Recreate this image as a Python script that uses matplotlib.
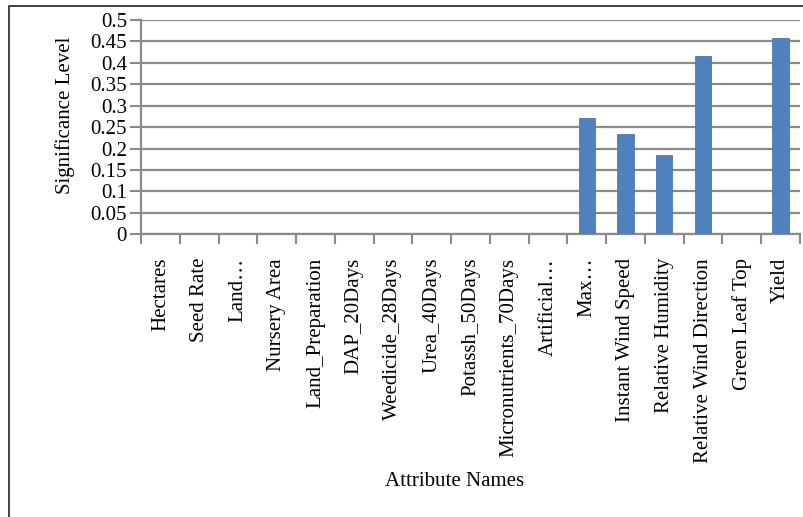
import matplotlib
matplotlib.use("Agg")
import matplotlib.pyplot as plt
from matplotlib.lines import Line2D
import numpy as np

attributes = ["Hectares", "Seed Rate", "Land\u2026", "Nursery Area", "Land_Preparation",
              "DAP_20Days", "Weedicide_28Days", "Urea_40Days", "Potassh_50Days",
              "Micronutrients_70Days", "Artificial\u2026", "Max\u2026", "Instant Wind Speed",
              "Relative Humidity", "Relative Wind Direction", "Green Leaf Top", "Yield"]
significance = [0, 0, 0, 0, 0, 0, 0, 0, 0, 0, 0,
                0.271, 0.235, 0.184, 0.417, 0, 0.457]
y_ticks = [0, 0.05, 0.1, 0.15, 0.2, 0.25, 0.3, 0.35, 0.4, 0.45, 0.5]
y_tick_labels = ["0", "0.05", "0.1", "0.15", "0.2", "0.25", "0.3", "0.35", "0.4", "0.45", "0.5"]

plt.rcParams['font.family'] = ['Liberation Serif', 'DejaVu Serif']
fs = 15
grey = '#8a8a8a'

W, H = 804, 517
fig = plt.figure(figsize=(W / 100, H / 100), dpi=100)
ax = fig.add_axes([141 / W, 1 - 234.3 / H, (800 - 141) / W, (234.3 - 20) / H])

x = np.arange(len(attributes))
ax.bar(x, significance, width=0.42, color='#4F81BD', edgecolor='#4A7AB5', linewidth=0.6, zorder=3)

ax.set_xlim(-0.5, len(attributes) - 0.5)
ax.set_ylim(0, 0.5)
ax.set_yticks(y_ticks)
ax.set_yticklabels(y_tick_labels, fontsize=fs)
ax.yaxis.grid(True, color=grey, linewidth=1.6, zorder=0)
ax.set_axisbelow(True)

# category ticks sit on the boundaries, labels at the centres
ax.set_xticks(np.arange(len(attributes) + 1) - 0.5)
ax.set_xticklabels([])
ax.set_xticks(x, minor=True)
ax.set_xticklabels(attributes, minor=True, rotation=90, fontsize=fs, va='top', ha='center')
ax.tick_params(axis='x', which='minor', length=0, pad=17)
ax.tick_params(axis='x', which='major', length=7, width=1.5, color=grey)
ax.tick_params(axis='y', length=8, width=1.5, color=grey, pad=2)

for side in ['top', 'right']:
    ax.spines[side].set_visible(False)
for side in ['left', 'bottom']:
    ax.spines[side].set_color(grey)
    ax.spines[side].set_linewidth(1.6)

fig.text(65 / W, 1 - 115.5 / H, "Significance Level", rotation=90, fontsize=fs,
         ha='center', va='center')
fig.text(455 / W, 1 - 481 / H, "Attribute Names", fontsize=fs, ha='center', va='center')

# chart border (left and top edges)
fig.add_artist(Line2D([8.5 / W, 8.5 / W, 1.0], [0.0, 1 - 5.5 / H, 1 - 5.5 / H],
                      transform=fig.transFigure, color='#222222', linewidth=1.2))

fig.savefig("out.png", dpi=100)
